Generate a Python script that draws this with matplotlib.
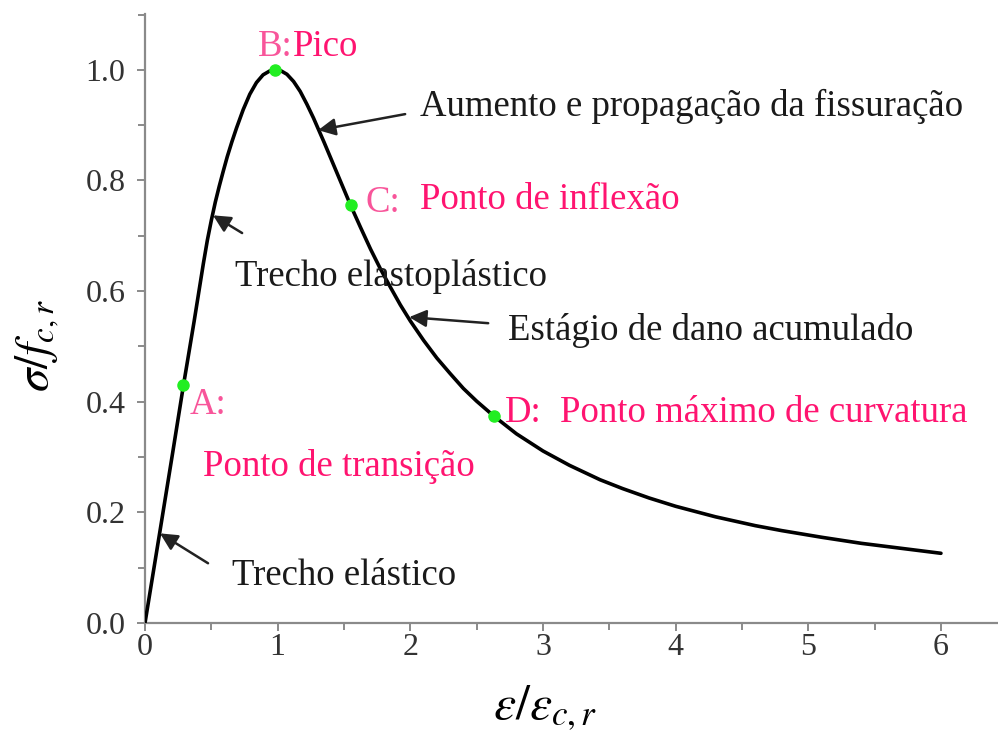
import matplotlib
matplotlib.use("Agg")
import matplotlib.pyplot as plt
from matplotlib.ticker import MultipleLocator

plt.rcParams["font.family"] = ["Liberation Serif", "DejaVu Serif"]
plt.rcParams["mathtext.fontset"] = "stix"

# Normalised stress-strain curve (ascending + descending branch)
strain = [0.0, 0.11, 0.21, 0.29, 0.37, 0.44, 0.47, 0.50, 0.53, 0.56, 0.59,
          0.62, 0.655, 0.69, 0.74, 0.79, 0.84, 0.89, 0.94, 0.98, 1.02, 1.07,
          1.12, 1.17, 1.22, 1.27, 1.35, 1.45, 1.55, 1.625, 1.70, 1.775, 1.85,
          1.925, 2.00, 2.10, 2.20, 2.30, 2.40, 2.50, 2.63, 2.80, 3.00, 3.20,
          3.43, 3.60, 3.80, 4.00, 4.30, 4.60, 4.80, 5.10, 5.40, 5.70, 6.00]
stress = [0.0, 0.162, 0.31, 0.43, 0.545, 0.65, 0.692, 0.728, 0.761, 0.790,
          0.817, 0.843, 0.870, 0.895, 0.928, 0.956, 0.977, 0.991, 0.998, 1.0,
          0.999, 0.992, 0.979, 0.961, 0.938, 0.913, 0.869, 0.812, 0.755,
          0.715, 0.676, 0.640, 0.607, 0.575, 0.546, 0.511, 0.479, 0.451,
          0.424, 0.401, 0.374, 0.342, 0.311, 0.285, 0.259, 0.243, 0.226,
          0.211, 0.192, 0.176, 0.167, 0.155, 0.144, 0.135, 0.126]

# characteristic points A-D
pt_x = [0.29, 0.98, 1.55, 2.63]
pt_y = [0.43, 1.0, 0.755, 0.374]

xticks = [0, 1, 2, 3, 4, 5, 6]
yticks = [0.0, 0.2, 0.4, 0.6, 0.8, 1.0]

PINK = "#ff1470"
PINK_LIGHT = "#f8559a"
INK = "#1a1a1a"
FS = 26.5

fig = plt.figure(figsize=(9.98, 7.37), dpi=100)
ax = fig.add_axes([0.1453, 0.1547, 0.8547, 0.8263])

ax.plot(strain, stress, color="black", lw=2.6, solid_capstyle="round",
        solid_joinstyle="round", zorder=3)
ax.plot(pt_x, pt_y, "o", color="#22ee22", ms=8, zorder=4)

ax.set_xlim(0, 6.43)
ax.set_ylim(0, 1.101)
ax.set_xticks(xticks)
ax.set_yticks(yticks)
ax.set_yticklabels([f"{v:.1f}" for v in yticks])
ax.xaxis.set_minor_locator(MultipleLocator(0.5))
ax.yaxis.set_minor_locator(MultipleLocator(0.1))

for side in ["top", "right"]:
    ax.spines[side].set_visible(False)
for side in ["left", "bottom"]:
    ax.spines[side].set_color("#8a8a8a")
    ax.spines[side].set_linewidth(1.6)
ax.tick_params(which="both", direction="out", color="#8a8a8a", width=1.4)
ax.tick_params(which="major", length=6, labelsize=23, labelcolor="#333333")
ax.tick_params(which="minor", length=5)
ax.tick_params(axis="x", pad=1)
ax.tick_params(axis="y", pad=8)

# axis titles
fig.text(545 / 998, 1 - 708 / 737, r"$\varepsilon/\varepsilon_{c,r}$",
         fontsize=36, ha="center", va="center")
fig.text(37 / 998, 1 - 345 / 737, r"$\sigma/f_{c,r}$", fontsize=34,
         rotation=90, ha="center", va="center")

# point labels
ax.text(0.852, 1.042, "B:", color=PINK_LIGHT, fontsize=FS, va="center")
ax.text(1.116, 1.042, "Pico", color=PINK, fontsize=FS, va="center")
ax.text(1.659, 0.760, "C:", color=PINK_LIGHT, fontsize=FS, va="center")
ax.text(2.074, 0.766, "Ponto de inflexão", color=PINK, fontsize=FS, va="center")
ax.text(0.339, 0.395, "A:", color=PINK_LIGHT, fontsize=FS, va="center")
ax.text(0.437, 0.283, "Ponto de transição", color=PINK, fontsize=FS, va="center")
ax.text(2.715, 0.380, "D:", color=PINK, fontsize=FS, va="center")
ax.text(3.13, 0.380, "Ponto máximo de curvatura", color=PINK, fontsize=FS, va="center")

# stage descriptions with arrows pointing at the curve
notes = [
    ("Aumento e propagação da fissuração", (2.074, 0.934), (1.961, 0.920), (1.305, 0.891)),
    ("Trecho elastoplástico", (0.679, 0.627), (0.732, 0.705), (0.513, 0.737)),
    ("Estágio de dano acumulado", (2.738, 0.529), (2.587, 0.542), (1.991, 0.553)),
    ("Trecho elástico", (0.656, 0.086), (0.475, 0.108), (0.113, 0.162)),
]
for label, txt_xy, tail, tip in notes:
    ax.text(*txt_xy, label, color=INK, fontsize=FS, va="center")
    ax.annotate("", xy=tip, xytext=tail,
                arrowprops=dict(arrowstyle="-|>", color="#222222", lw=1.8,
                                mutation_scale=26, shrinkA=0, shrinkB=0))

fig.savefig("out.png", dpi=100)
